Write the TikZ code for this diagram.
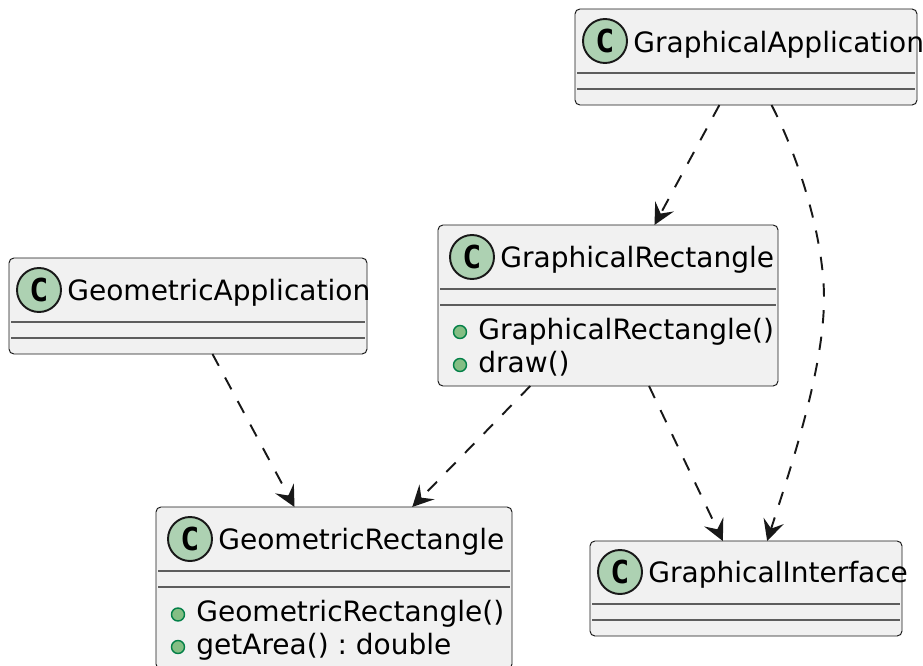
\documentclass[tikz,border=0pt]{standalone}
\usepackage{fontspec}
\usepackage{xcolor}
\setmainfont{DejaVu Sans}
\newfontfamily\spotfont[Scale=1]{DejaVu Sans Mono Bold}
\usetikzlibrary{arrows.meta}
\definecolor{boxfill}{HTML}{F1F1F1}
\definecolor{boxline}{HTML}{181818}
\definecolor{spotfill}{HTML}{ADD1B2}
\definecolor{pubfill}{HTML}{84BE84}
\definecolor{publine}{HTML}{038048}
\tikzset{
  classbox/.style={draw=boxline, line width=0.55pt, fill=boxfill, rounded corners=2.8pt, inner sep=0pt, outer sep=0pt},
  spot/.style={circle, draw=boxline, line width=1.1pt, fill=spotfill, minimum size=44*0.02cm, inner sep=0pt, font=\spotfont\fontsize{18pt}{18pt}\selectfont},
  label/.style={anchor=base west, inner sep=0pt, font=\frenchspacing\fontsize{15.95pt}{19pt}\selectfont},
  pub/.style={circle, draw=publine, line width=0.8pt, fill=pubfill, minimum size=13*0.02cm, inner sep=0pt},
  sep/.style={draw=boxline!70, line width=0.58pt},
  dep/.style={draw=boxline, line width=1.1pt, dash pattern=on 7.6pt off 7.6pt, -{Stealth[length=12pt, width=12pt, inset=4.6pt]}}
}
\begin{document}
\begin{tikzpicture}[x=0.02cm, y=-0.02cm]
\path[use as bounding box, clip] (0,0) rectangle (923,666);

\node[classbox, minimum width=342*0.02cm, minimum height=96*0.02cm] (gapp) at (746,57) {};
\node[classbox, minimum width=340*0.02cm, minimum height=161*0.02cm] (grect) at (608,305.5) {};
\node[classbox, minimum width=358*0.02cm, minimum height=96*0.02cm] (geoapp) at (188,306) {};
\node[classbox, minimum width=356*0.02cm, minimum height=162*0.02cm] (georect) at (334,588) {};
\node[classbox, minimum width=312*0.02cm, minimum height=95*0.02cm] (gint) at (746,588.5) {};

\draw[sep] (577,73) -- (915,73);
\draw[sep] (577,89) -- (915,89);
\draw[sep] (440,289) -- (776,289);
\draw[sep] (440,305) -- (776,305);
\draw[sep] (11,322) -- (365,322);
\draw[sep] (11,338) -- (365,338);
\draw[sep] (158,571) -- (510,571);
\draw[sep] (158,587) -- (510,587);
\draw[sep] (592,604) -- (900,604);
\draw[sep] (592,620) -- (900,620);

\node[spot] (gappspot) at (605,41) {C};
\node[spot] (grectspot) at (472,257) {C};
\node[spot] (geoappspot) at (39,290) {C};
\node[spot] (georectspot) at (190,539) {C};
\node[spot] (gintspot) at (620,572) {C};

\node[label] (gapptext) at (633,52) {GraphicalApplication};
\node[label] (grecttext) at (500,267.5) {GraphicalRectangle};
\node[label] (geoapptext) at (67,300.5) {GeometricApplication};
\node[label] (georecttext) at (218,549.5) {GeometricRectangle};
\node[label] (ginttext) at (648,582.5) {GraphicalInterface};

\node[pub] (grectpuba) at (460,332) {};
\node[pub] (grectpubb) at (460,365) {};
\node[label] (grectctor) at (478,339.5) {GraphicalRectangle()};
\node[label] (grectdraw) at (478,372) {draw()};
\node[pub] (georectpuba) at (178,614.5) {};
\node[pub] (georectpubb) at (178,647) {};
\node[label] (georectctor) at (196,621.5) {GeometricRectangle()};
\node[label] (georectarea) at (196,654) {getArea() : double};

\draw[dep] (gapp.-119.4) -- (grect.60.3);
\draw[dep] (gapp.-62.5) .. controls (800,160) and (824,240) .. (824,298) .. controls (824,370) and (790,470) .. (gint.66.1);
\draw[dep] (grect.-63.6) -- (gint.116.8);
\draw[dep] (grect.-134.1) -- (georect.46.1);
\draw[dep] (geoapp.-63.4) -- (georect.116.8);
\end{tikzpicture}
\end{document}
